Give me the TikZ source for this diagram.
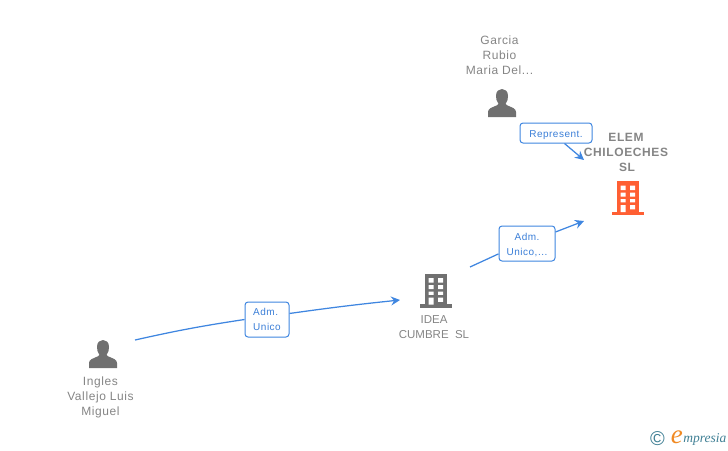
\documentclass[tikz,border=0pt]{standalone}
\usepackage{fontspec}
\setmainfont{Liberation Sans}[LetterSpace=5]
\newfontfamily\plainfont{Liberation Sans}
\newfontfamily\logofont{Liberation Serif}[ItalicFont=Liberation Serif Italic]
\usetikzlibrary{arrows.meta}
\definecolor{linkblue}{HTML}{3F86E0}
\definecolor{labelblue}{HTML}{3B7FD8}
\definecolor{icongray}{HTML}{707070}
\definecolor{textgray}{HTML}{858585}
\definecolor{brandorange}{HTML}{FF5F33}
\definecolor{logoteal}{HTML}{3F7F94}
\definecolor{logoorange}{HTML}{F08A24}
\tikzset{
  x=1pt,y=-1pt,
  caption/.style={align=center,text=textgray,inner sep=0pt,font=\fontsize{12}{15}\selectfont},
  captionplain/.style={caption,font=\plainfont\fontsize{11.5}{15}\selectfont},
  captionbold/.style={caption,font=\fontsize{12}{15}\selectfont\bfseries},
  linkbox/.style={draw=linkblue,line width=1pt,rounded corners=3pt,fill=white,text=labelblue,inner sep=0pt,font=\fontsize{10}{15}\selectfont},
  link/.style={draw=linkblue,line width=1.25pt},
  linkarrow/.style={link,-{Stealth[length=9pt,width=9pt,inset=3pt]}},
  pics/person/.style={code={
    \fill[icongray] (-14,14) -- (-14,9) .. controls (-14,5.5) and (-10,4.5) .. (-5.5,2.5)
      -- (-3.5,1) .. controls (-5.5,-2) and (-6,-4) .. (-6,-7)
      .. controls (-6,-12) and (-3,-14) .. (0,-14) .. controls (3,-14) and (6,-12) .. (6,-7)
      .. controls (6,-4) and (5.5,-2) .. (3.5,1) -- (5.5,2.5)
      .. controls (10,4.5) and (14,5.5) .. (14,9) -- (14,14) -- cycle;
  }},
  pics/building/.style={code={
    \fill[#1] (-11,-17) rectangle (11,13.5);
    \fill[#1] (-16,13.5) rectangle (16,17);
    \fill[white]
      (-7.3,-12.3) rectangle (-2.3,-8) (2,-12.3) rectangle (7,-8)
      (-7.3,-5.3) rectangle (-2.3,-1.3) (2,-5.3) rectangle (7,-1.3)
      (-7.3,1) rectangle (-2.3,4.3) (2,1) rectangle (7,4.3)
      (-7.3,7) rectangle (-2.3,14) (2,7) rectangle (7,11.3);
  }},
}
\begin{document}
\begin{tikzpicture}
\useasboundingbox (0,0) rectangle (728,450);
% free ends of the connectors
\coordinate (s1) at (135,340);
\coordinate (e1) at (400,300);
\coordinate (s2) at (470,267);
\coordinate (e2) at (584,221);
\coordinate (e3) at (584,160);
% labels on the connectors
\node[linkbox,minimum width=44pt,minimum height=35pt,align=left] (b1) at (267,319.5) {Adm.\\Unico};
\node[linkbox,minimum width=56pt,minimum height=35pt,align=center,text depth=-1pt] (b2) at (527,243.5) {\raisebox{-1.8pt}{Adm.}\\\raisebox{-1.8pt}{Unico,...}};
\node[linkbox,minimum width=72pt,minimum height=20pt,text height=8pt,text depth=0pt] (b3) at (556,133) {Represent.};
% connectors
\draw[link] (s1) to[bend left=2] (b1.west);
\draw[linkarrow] (b1.15) to[bend left=1] (e1);
\draw[link] (s2) -- (b2.200);
\draw[linkarrow] (b2.22) -- (e2);
\draw[linkarrow] (b3.-51) -- (e3);
% icons
\pic at (502,103) {person};
\pic at (103,354) {person};
\pic at (628,198) {building=brandorange};
\pic at (436,290.5) {building=icongray};
% captions
\node[caption] (garcia) at (499.5,55) {Garcia\\Rubio\\Maria Del...};
\node[caption] (ingles) at (100.5,397.5) {Ingles\\Vallejo Luis\\Miguel};
\node[captionplain] (idea) at (434,327.5) {IDEA\\CUMBRE\ \ SL};
\node[captionbold] (elem) at (626,152) {ELEM\\CHILOECHES\\\hspace*{2pt}SL};
% logo
\node[inner sep=0pt,text=logoteal,font=\plainfont\fontsize{20}{20}\selectfont] (copy) at (657.5,438.5) {©};
\node[inner sep=0pt,anchor=east,text=logoorange,font=\logofont\itshape\fontsize{27}{27}\selectfont] (logoe) at (683,437) {e};
\node[inner sep=0pt,anchor=west,text=logoteal,font=\logofont\itshape\fontsize{13.5}{14}\selectfont] (logot) at (683.2,439) {mpresia};
\end{tikzpicture}
\end{document}
